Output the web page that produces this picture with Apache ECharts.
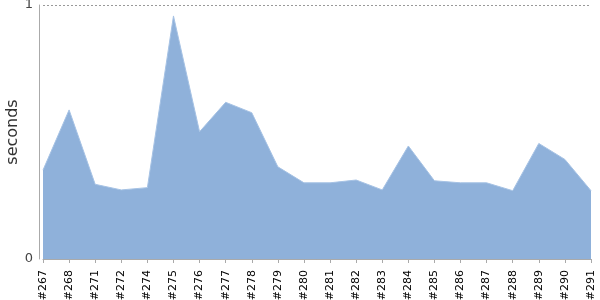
<!DOCTYPE html>
<html><head><meta charset="utf-8">
<script src="https://cdn.jsdelivr.net/npm/echarts@6/dist/echarts.min.js"></script>
<style>html,body{margin:0;padding:0;background:#fff}#c{width:600px;height:300px}</style>
</head><body><div id="c"></div>
<script>
const categories = ['#267','#268','#271','#272','#274','#275','#276','#277','#278','#279','#280','#281','#282','#283','#284','#285','#286','#287','#288','#289','#290','#291'];
const seconds = [0.350,0.587,0.294,0.272,0.281,0.957,0.501,0.617,0.576,0.363,0.300,0.300,0.311,0.272,0.445,0.308,0.300,0.300,0.269,0.455,0.392,0.269];
const yTicks = [0, 1];

const chart = echarts.init(document.getElementById('c'), null, {renderer:'canvas'});
chart.setOption({
  animation:false,
  textStyle:{fontFamily:'DejaVu Sans'},
  grid:{left:43,right:9,top:5,bottom:41,containLabel:false,outerBoundsMode:'none'},
  xAxis:{type:'category',data:categories,boundaryGap:false,offset:4,
    axisLine:{lineStyle:{color:'#aaaaaa',width:1}},
    axisTick:{alignWithLabel:true,length:4,lineStyle:{color:'#aaaaaa'},interval:0},
    axisLabel:{rotate:90,interval:0,fontSize:11,color:'#000',margin:7,fontFamily:'DejaVu Sans'},
    splitLine:{show:false}},
  yAxis:{type:'value',min:yTicks[0],max:yTicks[1],interval:1,offset:4,
    name:'seconds',nameLocation:'middle',nameGap:18,nameRotate:90,nameMoveOverlap:false,
    nameTextStyle:{fontSize:16,color:'#333',fontFamily:'DejaVu Sans'},
    axisLine:{show:true,lineStyle:{color:'#aaaaaa',width:1}},
    axisTick:{show:false},
    axisLabel:{fontSize:13,color:'#444',margin:6,fontFamily:'DejaVu Sans'},
    splitLine:{show:true,lineStyle:{color:'#999',type:[2,2],width:1}}},
  series:[{type:'line',data:seconds,symbol:'none',
    lineStyle:{width:1,color:'#a6c2e4'},
    areaStyle:{color:'#8fb1da',opacity:1}}]
});
</script></body></html>
